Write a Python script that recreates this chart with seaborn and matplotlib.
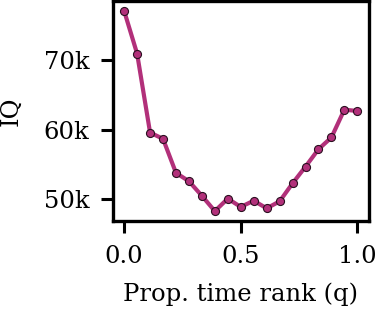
import matplotlib
matplotlib.use("Agg")
import matplotlib.pyplot as plt
import matplotlib.ticker as mticker
import numpy as np
import pandas as pd
import seaborn as sns

# proportional time rank and IQ values
q = [i / 18 for i in range(19)]
iq = [77.1, 70.95, 59.6, 58.7, 53.8, 52.6, 50.5, 48.3, 50.1, 48.9,
      49.8, 48.7, 49.7, 52.3, 54.7, 57.2, 58.9, 62.9, 62.7]

df = pd.DataFrame({"q": q, "iq": np.array(iq) * 1000})

sns.set_theme(style="ticks")
plt.rcParams["font.family"] = ["DejaVu Serif"]
plt.rcParams["text.color"] = "black"
plt.rcParams["axes.labelcolor"] = "black"
plt.rcParams["xtick.color"] = "black"
plt.rcParams["ytick.color"] = "black"

col = "#b2307a"

fig = plt.figure(figsize=(3.75, 3.11), dpi=100)
ax = fig.add_axes([0.30, 0.289, 0.684, 0.708])
sns.lineplot(data=df, x="q", y="iq", color=col, linewidth=3.0,
             marker="o", markersize=5.8, markeredgecolor="#2a1020",
             markeredgewidth=0.8, ax=ax)

ax.set_xlabel("Prop. time rank (q)", fontsize=17.5)
ax.set_ylabel("IQ", fontsize=17.5)
ax.xaxis.set_label_coords(0.5, -0.28)
ax.yaxis.set_label_coords(-0.35, 0.5)
ax.set_xticks([0.0, 0.5, 1.0])
ax.set_yticks([50000, 60000, 70000])
ax.yaxis.set_major_formatter(mticker.FuncFormatter(lambda v, p: f"{v/1000:.0f}k"))
ax.tick_params(labelsize=17.5, width=2.2, length=8.5)
ax.tick_params(axis="x", pad=9)
ax.tick_params(axis="y", pad=8)
for s in ax.spines.values():
    s.set_linewidth(2.4)
    s.set_color("black")

fig.savefig("out.png", dpi=100)
